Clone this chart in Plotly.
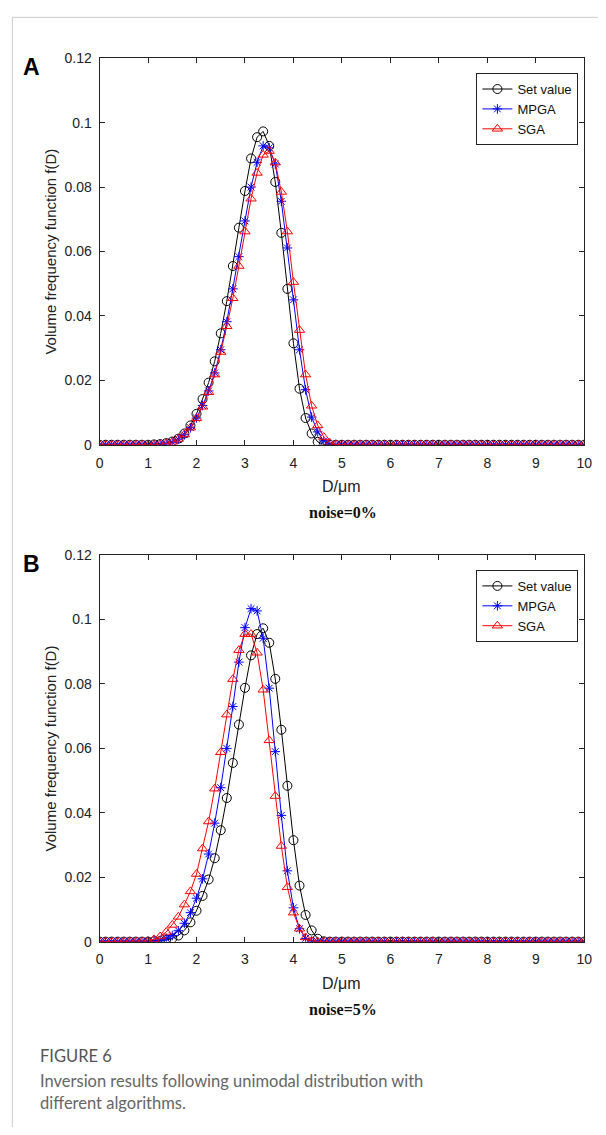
import numpy as np
import plotly.graph_objects as go

# ---------------- data ----------------
D = np.linspace(0, 10, 81)  # diameter grid, um

set_value = [0, 0, 0, 0, 0, 0, 0, 0, 0, 0.0001,
             0.0002, 0.0005, 0.0010, 0.0019, 0.0035, 0.0060, 0.0096, 0.0142, 0.0193, 0.0259,
             0.0346, 0.0446, 0.0555, 0.0674, 0.0788, 0.0889, 0.0955, 0.0973, 0.0928, 0.0816,
             0.0658, 0.0484, 0.0315, 0.0174, 0.0083, 0.0035, 0.0009, 0.0001] + [0] * 43

mpga_a = [0, 0, 0, 0, 0, 0, 0, 0, 0, 0,
          0.0001, 0.0003, 0.0008, 0.0017, 0.0031, 0.0053, 0.0083, 0.0122, 0.0167, 0.0223,
          0.0295, 0.0382, 0.0484, 0.0584, 0.0695, 0.0800, 0.0877, 0.0928, 0.0922, 0.0872,
          0.0756, 0.0611, 0.0450, 0.0295, 0.0171, 0.0086, 0.0040, 0.0012, 0.0002] + [0] * 42

sga_a = [0, 0, 0, 0, 0, 0, 0, 0, 0, 0,
         0.0001, 0.0004, 0.0009, 0.0018, 0.0032, 0.0053, 0.0082, 0.0118, 0.0163, 0.0218,
         0.0288, 0.0368, 0.0455, 0.0555, 0.0662, 0.0764, 0.0844, 0.0900, 0.0912, 0.0876,
         0.0785, 0.0662, 0.0505, 0.0356, 0.0218, 0.0121, 0.0060, 0.0024, 0.0006, 0.0001] + [0] * 41

mpga_b = [0, 0, 0, 0, 0, 0, 0, 0, 0, 0.0001,
          0.0004, 0.0010, 0.0019, 0.0034, 0.0057, 0.0090, 0.0135, 0.0195, 0.0272, 0.0368,
          0.0478, 0.0600, 0.0730, 0.0868, 0.0975, 0.1034, 0.1027, 0.0942, 0.0787, 0.0590,
          0.0392, 0.0220, 0.0105, 0.0040, 0.0010, 0.0001] + [0] * 45

sga_b = [0, 0, 0, 0, 0, 0, 0, 0, 0.0002, 0.0007,
         0.0016, 0.0030, 0.0052, 0.0077, 0.0115, 0.0156, 0.0210, 0.0289, 0.0373, 0.0475,
         0.0588, 0.0705, 0.0815, 0.0905, 0.0955, 0.0955, 0.0897, 0.0782, 0.0625, 0.0452,
         0.0297, 0.0169, 0.0090, 0.0040, 0.0013, 0.0002] + [0] * 45

series_names = ["Set value", "MPGA", "SGA"]
x_ticks = list(range(0, 11))
y_ticks = [0, 0.02, 0.04, 0.06, 0.08, 0.1, 0.12]

# ---------------- layout helpers ----------------
W, H = 606, 1135
def px(x):
    return x / W
def py(y):
    return 1 - y / H

LEFT, RIGHT = 97.5, 592
A_TOP, A_BOT = 51, 443
B_TOP, B_BOT = 555, 947

styles = [
    dict(color="#000000", symbol="circle-open", size=9),
    dict(color="#0000ff", symbol="asterisk-open", size=8),
    dict(color="#ff0000", symbol="triangle-up-open", size=9),
]

fig = go.Figure()

panels = [
    ("x", "y", "legend", [set_value, mpga_a, sga_a]),
    ("x2", "y2", "legend2", [set_value, mpga_b, sga_b]),
]
for xa, ya, lg, data in panels:
    for name, vals, st in zip(series_names, data, styles):
        fig.add_trace(go.Scatter(
            x=D, y=vals, mode="lines+markers", name=name,
            xaxis=xa, yaxis=ya, legend=lg,
            line=dict(color=st["color"], width=1),
            marker=dict(symbol=st["symbol"], size=st["size"], color=st["color"],
                        line=dict(color=st["color"], width=1)),
        ))

axis_common = dict(
    showline=True, linecolor="#222222", linewidth=1, mirror="ticks",
    ticks="inside", ticklen=5, tickcolor="#222222", showgrid=False, zeroline=False,
    tickfont=dict(family="Liberation Sans, Arial", size=14, color="#222222"),
)

legend_common = dict(
    xanchor="right", yanchor="top",
    bordercolor="#222222", borderwidth=1, bgcolor="white",
    font=dict(family="Liberation Sans, Arial", size=13, color="#111111"),
    tracegroupgap=0, itemwidth=30,
)

fig.update_layout(
    width=W, height=H, margin=dict(l=0, r=0, t=0, b=0),
    paper_bgcolor="white", plot_bgcolor="white",
    xaxis=dict(domain=[px(LEFT), px(RIGHT)], range=[0, 10], tickvals=x_ticks, anchor="y",
               ticklabelstandoff=5, **axis_common),
    yaxis=dict(domain=[py(A_BOT), py(A_TOP)], range=[0, 0.12], tickvals=y_ticks, anchor="x",
               ticklabelstandoff=4, **axis_common),
    xaxis2=dict(domain=[px(LEFT), px(RIGHT)], range=[0, 10], tickvals=x_ticks, anchor="y2",
                ticklabelstandoff=5, **axis_common),
    yaxis2=dict(domain=[py(B_BOT), py(B_TOP)], range=[0, 0.12], tickvals=y_ticks, anchor="x2",
                ticklabelstandoff=4, **axis_common),
    legend=dict(x=px(586), y=py(A_TOP + 15), **legend_common),
    legend2=dict(x=px(586), y=py(B_TOP + 15), **legend_common),
    showlegend=True,
)

ann = []
def text(x, y, s, size, family="Liberation Sans, Arial", color="#222222", angle=0,
         xanchor="center", yanchor="middle"):
    ann.append(dict(x=px(x), y=py(y), xref="paper", yref="paper", text=s, showarrow=False,
                    font=dict(family=family, size=size, color=color), textangle=angle,
                    xanchor=xanchor, yanchor=yanchor))

for top, bot, letter, noise in [(A_TOP, A_BOT, "A", "noise=0%"), (B_TOP, B_BOT, "B", "noise=5%")]:
    text(28, top + 9, "<b>" + letter + "</b>", 23, color="#000000")
    text(47, (top + bot) / 2, "Volume frequency function f(D)", 15, angle=-90)
    text(344, bot + 42, "D/μm", 16)
    text(346, bot + 69, "<b>" + noise + "</b>", 16, family="Liberation Serif, Times New Roman", color="#111111")

text(35, 1063, "FIGURE 6", 16.5, family="Lato, Open Sans", color="#555555", xanchor="left")
text(35, 1088, "Inversion results following unimodal distribution with", 16.5,
     family="Lato, Open Sans", color="#666666", xanchor="left")
text(35, 1111, "different algorithms.", 16.5, family="Lato, Open Sans", color="#666666", xanchor="left")

fig.update_layout(annotations=ann)

# card frame (top and left edges)
fig.add_shape(type="line", xref="paper", yref="paper", x0=px(8.5), x1=1, y0=py(9.5), y1=py(9.5),
              line=dict(color="#cccccc", width=1))
fig.add_shape(type="line", xref="paper", yref="paper", x0=px(8.5), x1=px(8.5), y0=py(9.5), y1=0,
              line=dict(color="#cccccc", width=1))

fig.write_html(
    "out.html",
    config={"displayModeBar": False},
    post_script="document.body.style.margin='0';document.body.style.overflow='hidden';",
)
